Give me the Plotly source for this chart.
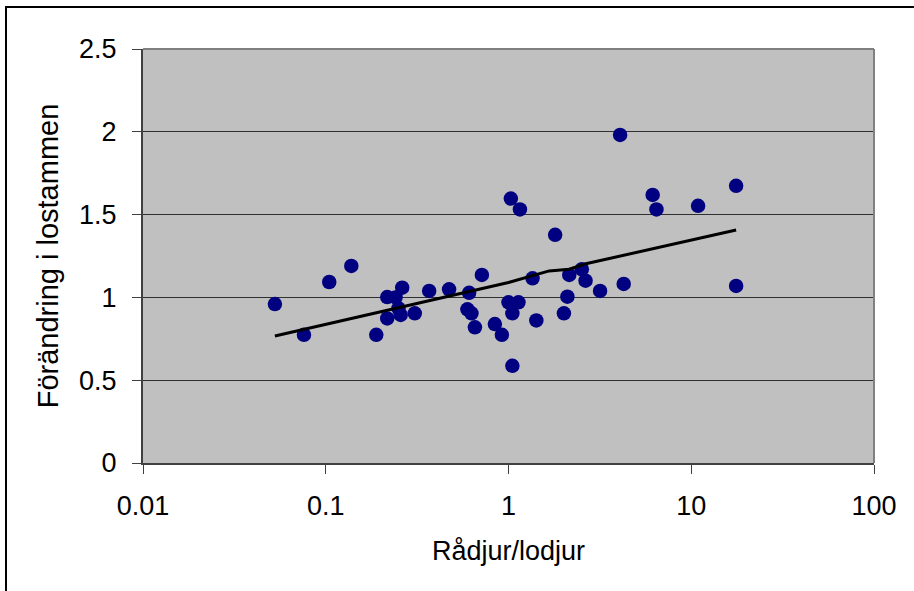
import plotly.graph_objects as go

# Data
ratio = [0.0527, 0.076, 0.1045, 0.138, 0.189, 0.217, 0.217, 0.241, 0.250, 0.257,
         0.262, 0.307, 0.368, 0.473, 0.596, 0.609, 0.627, 0.655, 0.715, 0.842,
         0.920, 1.00, 1.03, 1.05, 1.05, 1.134, 1.155, 1.354, 1.42, 1.80,
         2.01, 2.10, 2.15, 2.52, 2.64, 3.17, 4.08, 4.27, 6.15, 6.45,
         10.9, 17.6, 17.6]
change = [0.960, 0.774, 1.093, 1.190, 0.774, 1.002, 0.873, 1.000, 0.934, 0.894,
          1.059, 0.904, 1.039, 1.049, 0.928, 1.028, 0.904, 0.819, 1.136, 0.839,
          0.774, 0.970, 1.597, 0.587, 0.904, 0.970, 1.531, 1.115, 0.861, 1.378,
          0.904, 1.004, 1.136, 1.170, 1.101, 1.039, 1.981, 1.081, 1.619, 1.531,
          1.553, 1.674, 1.069]

trend_x = [0.0527, 1.0, 1.67, 2.15, 2.65, 17.6]
trend_y = [0.767, 1.090, 1.160, 1.170, 1.203, 1.407]

x_tickvals = [0.01, 0.1, 1, 10, 100]
x_ticktext = ["0.01", "0.1", "1", "10", "100"]
y_tickvals = [0, 0.5, 1, 1.5, 2, 2.5]
y_ticktext = ["0", "0.5", "1", "1.5", "2", "2.5"]

FONT = "Liberation Sans, Arial, sans-serif"

fig = go.Figure()
fig.add_trace(go.Scatter(
    x=ratio, y=change, mode="markers",
    marker=dict(size=14.5, color="#000080", line=dict(width=0)),
    showlegend=False, hoverinfo="skip"))
fig.add_trace(go.Scatter(
    x=trend_x, y=trend_y, mode="lines",
    line=dict(color="black", width=3),
    showlegend=False, hoverinfo="skip"))

L, R, T, B = 143, 40, 49, 128
W, H = 914, 591
pw = W - L - R
ph = H - T - B

fig.update_layout(
    width=W, height=H,
    margin=dict(l=L, r=R, t=T, b=B, pad=0),
    paper_bgcolor="white",
    plot_bgcolor="#C0C0C0",
    font=dict(family=FONT, size=27, color="black"),
    xaxis=dict(
        type="log", range=[-2, 2],
        tickvals=x_tickvals, ticktext=x_ticktext,
        tickfont=dict(size=27),
        showgrid=False, zeroline=False,
        showline=True, linecolor="#404040", linewidth=2,
        ticks="outside", ticklen=9, tickcolor="#404040", tickwidth=1,
        ticklabelstandoff=9,
        title=dict(text="Rådjur/lodjur", font=dict(size=27), standoff=21),
    ),
    yaxis=dict(
        range=[0, 2.5],
        tickvals=y_tickvals, ticktext=y_ticktext,
        tickfont=dict(size=27),
        showgrid=True, gridcolor="#303030", gridwidth=1,
        zeroline=False,
        showline=True, linecolor="#404040", linewidth=2,
        ticks="outside", ticklen=9, tickcolor="#404040", tickwidth=1,
        ticklabelstandoff=10,
        title=dict(text="Förändring i lostammen", font=dict(size=29), standoff=12),
    ),
)

# grey border on top and right of the plot area
fig.add_shape(type="line", xref="paper", yref="paper", x0=0, x1=1, y0=1, y1=1,
              line=dict(color="#808080", width=2))
fig.add_shape(type="line", xref="paper", yref="paper", x0=1, x1=1, y0=0, y1=1,
              line=dict(color="#808080", width=2))

# outer chart frame (only left and top visible)
def px_x(p):
    return (p - L) / pw

def px_y(p):
    return (H - B - p) / ph

fig.add_shape(type="path", xref="paper", yref="paper",
              path=f"M {px_x(6)},{px_y(600)} L {px_x(6)},{px_y(7)} L {px_x(920)},{px_y(7)}",
              line=dict(color="black", width=2))

fig.write_html("out.html",
               config={"displayModeBar": False, "staticPlot": True},
               post_script="document.body.style.margin='0px';document.body.style.overflow='hidden';")
